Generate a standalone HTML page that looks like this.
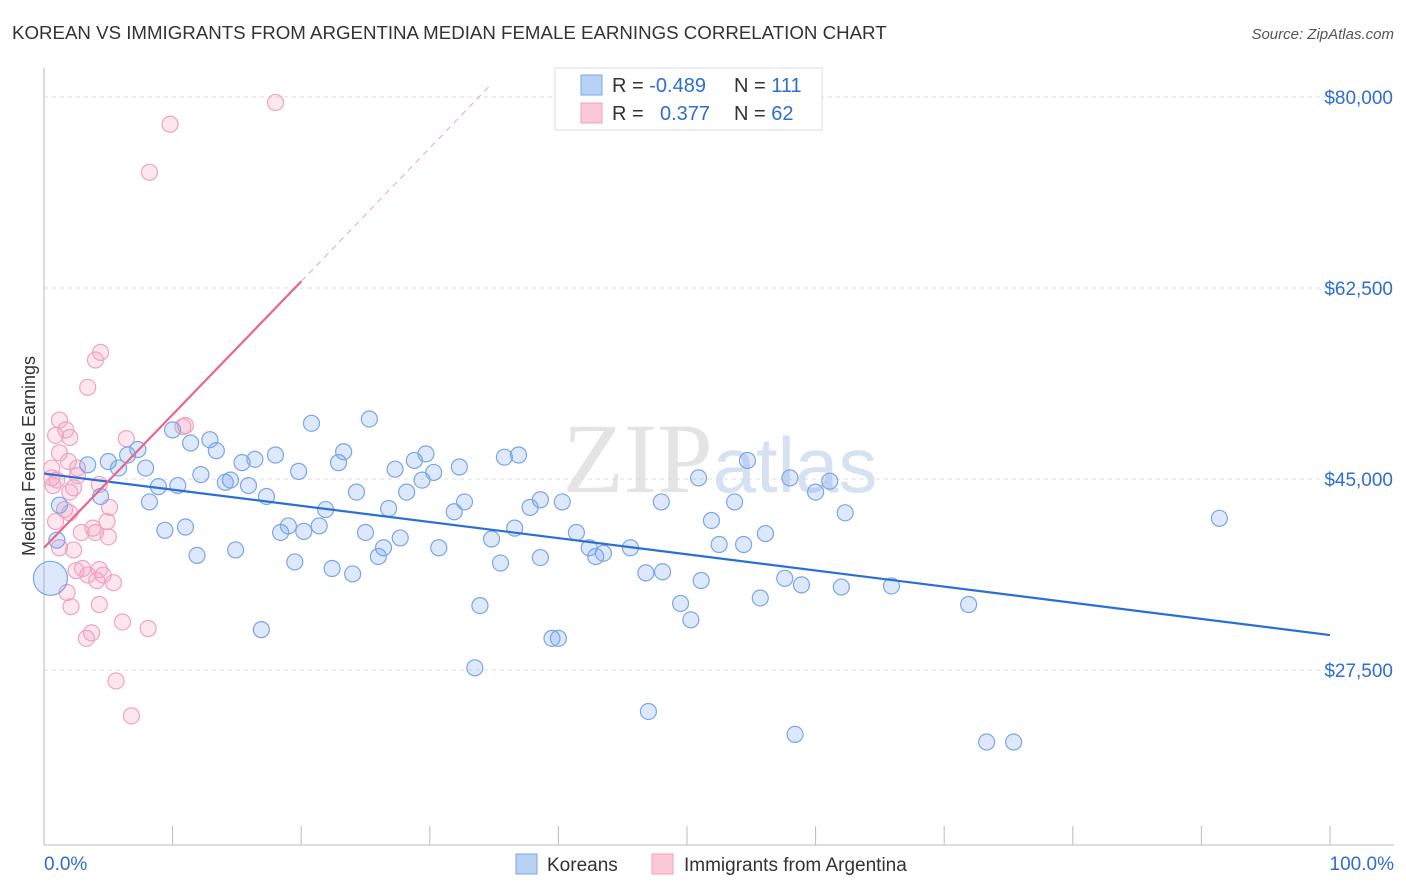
<!DOCTYPE html>
<html><head><meta charset="utf-8"><style>
body{margin:0;background:#fff;font-family:"Liberation Sans",sans-serif;}
svg{display:block}
</style></head><body>
<svg id="chart" width="1406" height="892">
<text x="12" y="39" font-size="18.7" fill="#333">KOREAN VS IMMIGRANTS FROM ARGENTINA MEDIAN FEMALE EARNINGS CORRELATION CHART</text>
<text x="1394" y="39" font-size="15" fill="#555" font-style="italic" text-anchor="end">Source: ZipAtlas.com</text>
<text x="720" y="492" font-size="100" fill="#e4e4e4" text-anchor="middle" font-family="Liberation Serif">ZIP<tspan fill="#d6e2f2" font-family="Liberation Sans" font-size="78">atlas</tspan></text>
<g id="grid"></g>
<g id="axes"></g>
<g id="marks"></g>
<text transform="translate(35,456) rotate(-90)" font-size="18" fill="#333" text-anchor="middle">Median Female Earnings</text>
<g>
<rect x="555" y="68" width="267" height="62" fill="#fff" stroke="#ddd"/>
<rect x="581" y="75" width="21" height="20" fill="#b8d2f5" stroke="#7aa6e6"/>
<rect x="581" y="103" width="21" height="20" fill="#fbc9d8" stroke="#f0a0bc"/>
<text x="612" y="92" font-size="20" fill="#333">R = <tspan fill="#2d6fd0">-0.489</tspan></text>
<text x="734" y="92" font-size="20" fill="#333">N = <tspan fill="#2d6fd0">111</tspan></text>
<text x="612" y="120" font-size="20" fill="#333">R = </text>
<text x="660" y="120" font-size="20" fill="#2d6fd0">0.377</text>
<text x="734" y="120" font-size="20" fill="#333">N = <tspan fill="#2d6fd0">62</tspan></text>
</g>
<g>
<rect x="516" y="854" width="21" height="20" fill="#b8d2f5" stroke="#7aa6e6"/>
<text x="547" y="871" font-size="19" fill="#333">Koreans</text>
<rect x="652" y="854" width="21" height="20" fill="#fbc9d8" stroke="#f0a0bc"/>
<text x="684" y="871" font-size="19" fill="#333">Immigrants from Argentina</text>
</g>
</svg>
<script>
const yTicks=[27500,45000,62500,80000];
const yTickLabels=["$27,500","$45,000","$62,500","$80,000"];
const xTickLabels=["0.0%","100.0%"];
const koreanX=[0.5,1.0,1.2,3.4,4.4,5.0,5.8,6.5,7.3,7.9,8.2,8.9,9.4,10.0,10.4,11.0,11.4,11.9,12.2,12.9,13.4,14.1,14.5,14.9,15.4,15.9,16.4,16.9,17.3,18.0,18.4,19.0,19.5,19.8,20.2,20.8,21.4,21.9,22.4,22.9,23.3,24.0,24.3,25.0,25.3,26.0,26.4,26.8,27.3,27.7,28.2,28.8,29.4,29.7,30.3,30.7,31.9,32.3,32.7,33.5,33.9,34.8,35.5,35.8,36.6,36.9,37.8,38.6,38.6,39.5,40.0,40.3,41.4,42.4,42.9,43.5,45.6,46.8,47.0,48.1,48.0,49.5,50.3,50.9,51.1,51.9,52.5,53.7,54.4,54.7,55.7,56.1,57.6,58.0,58.4,58.9,60.0,61.1,62.0,62.3,65.9,71.9,73.3,75.4,91.4];
const koreanY=[35.9,39.4,42.6,46.3,43.4,46.6,46.0,47.2,47.7,46.0,42.9,44.3,40.3,49.5,44.4,40.6,48.3,38.0,45.4,48.6,47.6,44.7,44.9,38.5,46.5,44.4,46.8,31.2,43.4,47.2,40.1,40.7,37.4,45.7,40.2,50.1,40.7,42.2,36.8,46.5,47.5,36.3,43.8,40.1,50.5,37.9,38.7,42.3,45.9,39.6,43.8,46.7,44.9,47.3,45.6,38.7,42.0,46.1,42.9,27.7,33.4,39.5,37.3,47.0,40.5,47.2,42.4,43.1,37.8,30.4,30.4,42.9,40.1,38.7,37.9,38.2,38.7,36.4,23.7,36.5,42.9,33.6,32.1,45.1,35.7,41.2,39.0,42.9,39.0,46.7,34.1,40.0,35.9,45.1,21.6,35.3,43.8,44.8,35.1,41.9,35.2,33.5,20.9,20.9,41.4];
const argX=[18.0,9.8,8.2,4.4,4.0,3.4,1.2,1.7,0.9,2.0,6.4,11.0,10.8,1.2,1.9,2.6,0.6,0.6,1.0,2.6,0.7,2.0,2.3,4.3,5.1,1.6,2.0,0.9,4.9,3.8,4.0,5.0,2.9,2.3,1.2,3.0,3.4,4.3,4.6,4.1,5.4,2.5,1.8,4.3,2.1,6.1,8.1,3.7,3.3,5.6,6.8];
const argY=[79.5,77.5,73.1,56.6,55.9,53.4,50.4,49.5,49.0,48.8,48.7,49.9,49.8,47.4,46.6,46.0,46.0,45.1,44.9,45.3,44.4,43.8,44.2,44.5,42.4,42.2,41.9,41.1,41.1,40.5,40.1,39.7,40.1,38.5,38.7,36.8,36.2,36.7,36.2,35.7,35.5,36.6,34.6,33.5,33.3,31.9,31.3,30.9,30.4,26.5,23.3];
const koreanTrend=[45.5,30.7];
const argTrend=[38.7,63.1,81.2];
const argTrendX=[0,20,34.8];

const NS="http://www.w3.org/2000/svg";
const L=44,R=1330,B=845;
const X=p=>L+p*(R-L)/100;
const Y=v=>97+(80000-v)*191/17500;
function mk(tag,attrs,parent){const e=document.createElementNS(NS,tag);for(const k in attrs)e.setAttribute(k,attrs[k]);document.getElementById(parent).appendChild(e);return e;}

yTicks.forEach((t,i)=>{
  const g=mk('line',{x1:L,x2:1394,y1:Y(t),y2:Y(t),stroke:'#ddd','stroke-dasharray':'4,4'},'grid');
  
  
  const tx=mk('text',{x:1393,y:Y(t)+7,'font-size':19,fill:'#2d6fd0','text-anchor':'end'},'axes');
  tx.textContent=yTickLabels[i];
  
  
});
const ax=mk('line',{x1:L,x2:1394,y1:B,y2:B,stroke:'#bbb'},'axes');


const ay=mk('line',{x1:L,x2:L,y1:68,y2:B,stroke:'#bbb'},'axes');


for(let i=0;i<=10;i++){
  const t=mk('line',{x1:X(i*10),x2:X(i*10),y1:826,y2:B,stroke:'#bbb'},'axes');
  
  
}
[[0,'start',44],[100,'end',1394]].forEach((d,i)=>{
  const t=mk('text',{x:d[2],y:870,'font-size':19,fill:'#2d6fd0','text-anchor':d[1]},'axes');
  t.textContent=xTickLabels[i];
  
  
});
argX.forEach((x,i)=>{
  const c=mk('circle',{cx:X(x),cy:Y(argY[i]*1000),r:8,fill:'rgba(245,160,190,0.25)',stroke:'#f0a3bf','stroke-width':1.2},'marks');
  
  
});
koreanX.forEach((x,i)=>{
  const c=mk('circle',{cx:X(x),cy:Y(koreanY[i]*1000),r:i===0?17:8,fill:'rgba(120,165,235,0.25)',stroke:'#7aa6e6','stroke-width':1.2},'marks');
  
  
});
const kl=mk('line',{x1:X(0),y1:Y(koreanTrend[0]*1000),x2:X(100),y2:Y(koreanTrend[1]*1000),stroke:'#2a6fd6','stroke-width':2.2},'marks');


const al=mk('line',{x1:X(argTrendX[0]),y1:Y(argTrend[0]*1000),x2:X(argTrendX[1]),y2:Y(argTrend[1]*1000),stroke:'#e8668e','stroke-width':2.2},'marks');


const ad=mk('line',{x1:X(argTrendX[1]),y1:Y(argTrend[1]*1000),x2:X(argTrendX[2]),y2:Y(argTrend[2]*1000),stroke:'#f0a3bf','stroke-width':1,'stroke-dasharray':'6,5'},'marks');


</script>
</body></html>
